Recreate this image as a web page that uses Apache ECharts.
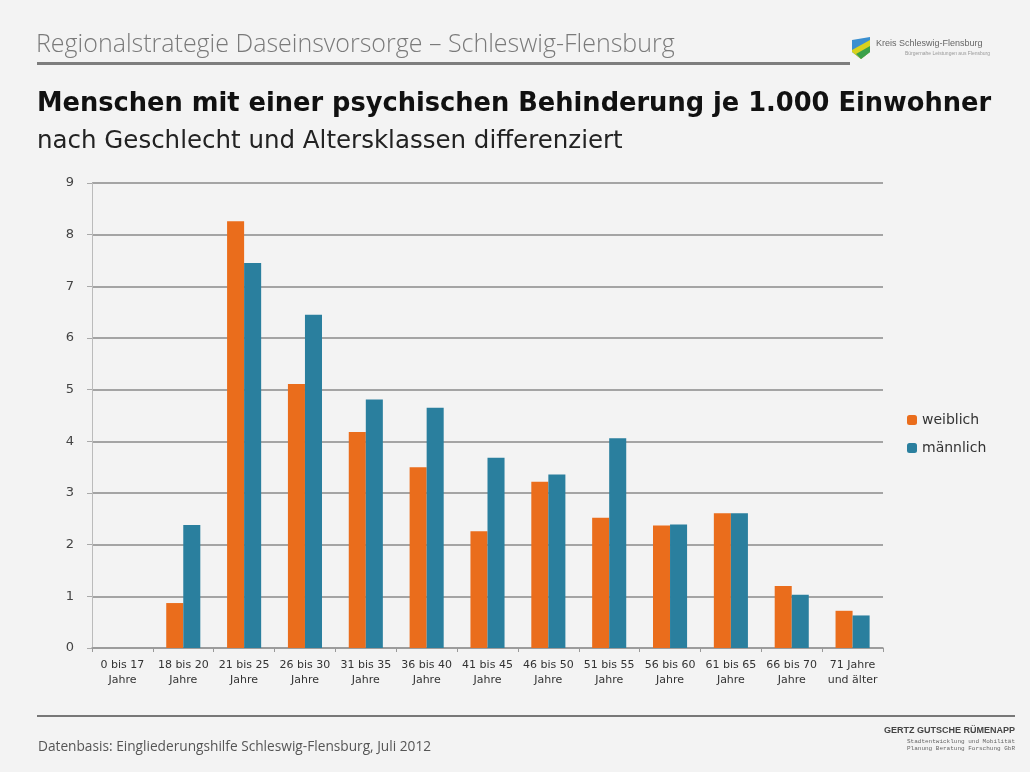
<!DOCTYPE html>
<html><head><meta charset="utf-8">
<script src="https://cdn.jsdelivr.net/npm/echarts@6/dist/echarts.min.js"></script>
<style>html,body{margin:0;padding:0;background:#f3f3f3;}#c{width:1030px;height:772px;}</style>
</head><body><div id="c"></div>
<script>
const categories = ["0 bis 17\nJahre","18 bis 20\nJahre","21 bis 25\nJahre","26 bis 30\nJahre","31 bis 35\nJahre","36 bis 40\nJahre","41 bis 45\nJahre","46 bis 50\nJahre","51 bis 55\nJahre","56 bis 60\nJahre","61 bis 65\nJahre","66 bis 70\nJahre","71 Jahre\nund älter"];
const weiblich = [0, 0.87, 8.26, 5.11, 4.18, 3.50, 2.26, 3.22, 2.52, 2.37, 2.61, 1.20, 0.72];
const maennlich = [0, 2.38, 7.45, 6.45, 4.81, 4.65, 3.68, 3.36, 4.06, 2.39, 2.61, 1.03, 0.63];
const yTicks = [0,1,2,3,4,5,6,7,8,9];

const chart = echarts.init(document.getElementById('c'));
const font = "'DejaVu Sans', Verdana, sans-serif";
chart.setOption({
  backgroundColor: '#f3f3f3',
  animation: false,
  textStyle: { fontFamily: font },
  title: [
    { text: 'Regionalstrategie Daseinsvorsorge – Schleswig-Flensburg', left: 36, top: 32, padding: 0,
      textStyle: { fontFamily: "'Open Sans', sans-serif", fontWeight: 300, fontSize: 25, color: '#7a7a7a' } },
    { text: 'Menschen mit einer psychischen Behinderung je 1.000 Einwohner', left: 37, top: 91, padding: 0,
      textStyle: { fontFamily: font, fontWeight: 'bold', fontSize: 25.7, color: '#111' } },
    { text: 'nach Geschlecht und Altersklassen differenziert', left: 37, top: 129, padding: 0,
      textStyle: { fontFamily: font, fontWeight: 'normal', fontSize: 24.5, color: '#222' } }
  ],
  legend: {
    orient: 'vertical', left: 902, top: 408, itemWidth: 10, itemHeight: 10, itemGap: 14,
    textStyle: { fontSize: 14, color: '#333', fontFamily: font },
    data: ['weiblich', 'männlich']
  },
  grid: { left: 92, right: 147, top: 183, bottom: 124, containLabel: false },
  xAxis: {
    type: 'category', data: categories,
    axisLine: { lineStyle: { color: '#999', width: 1.5 } },
    axisTick: { show: true, length: 4, lineStyle: { color: '#999' } },
    axisLabel: { interval: 0, fontSize: 11, color: '#333', lineHeight: 15, margin: 10 }
  },
  yAxis: {
    type: 'value', min: 0, max: 9, interval: 1,
    axisLine: { show: true, lineStyle: { color: '#bbb' } },
    axisTick: { show: true, length: 5, lineStyle: { color: '#aaa' } },
    axisLabel: { fontSize: 13, color: '#444', margin: 18, formatter: v => yTicks.includes(v) ? String(v) : '' },
    splitLine: { lineStyle: { color: '#8a8a8a', width: 1.5 } }
  },
  series: [
    { name: 'weiblich', type: 'bar', data: weiblich, barGap: '0%', barCategoryGap: '44%',
      itemStyle: { color: '#ea6d1c' } },
    { name: 'männlich', type: 'bar', data: maennlich, itemStyle: { color: '#2a7f9e' } }
  ],
  graphic: [
    { type: 'rect', shape: { x: 37, y: 62, width: 813, height: 3 }, style: { fill: '#7d7d7d' } },
    { type: 'polygon', shape: { points: [[852,40],[870,37],[870,52],[861,59],[852,52]] }, style: { fill: '#3a8fd0' } },
    { type: 'polygon', shape: { points: [[852,50],[870,40],[870,52],[861,59],[852,52]] }, style: { fill: '#d8d21e' } },
    { type: 'polygon', shape: { points: [[856,54],[870,46],[870,52],[861,59]] }, style: { fill: '#3aa04a' } },
    { type: 'text', left: 876, top: 39, style: { text: 'Kreis Schleswig-Flensburg', fontSize: 9, fill: '#666', fontFamily: "'Liberation Sans Narrow', sans-serif" } },
    { type: 'text', left: 905, top: 51, style: { text: 'Bürgernahe Leistungen aus Flensburg', fontSize: 5, fill: '#999' } },
    { type: 'rect', shape: { x: 37, y: 715, width: 978, height: 2 }, style: { fill: '#777' } },
    { type: 'text', left: 38, top: 740, style: { text: 'Datenbasis: Eingliederungshilfe Schleswig-Flensburg, Juli 2012', fontSize: 13.7, fill: '#555', fontFamily: "'Open Sans', sans-serif" } },
    { type: 'text', right: 15, top: 726, style: { text: 'GERTZ GUTSCHE RÜMENAPP', fontSize: 9, fontWeight: 'bold', fill: '#444', fontFamily: "'Liberation Sans Narrow', sans-serif" } },
    { type: 'text', right: 15, top: 738, style: { text: 'Stadtentwicklung und Mobilität', fontSize: 6, fill: '#666', fontFamily: "'Liberation Mono', monospace" } },
    { type: 'text', right: 15, top: 745, style: { text: 'Planung Beratung Forschung GbR', fontSize: 6, fill: '#666', fontFamily: "'Liberation Mono', monospace" } }
  ]
});
</script></body></html>
